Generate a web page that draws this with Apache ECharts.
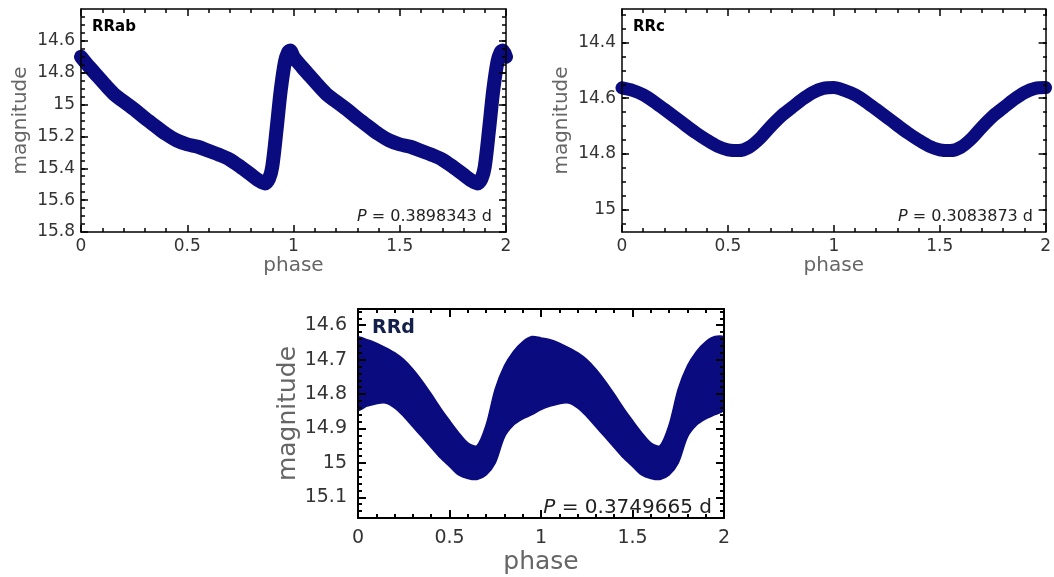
<!DOCTYPE html>
<html>
<head>
<meta charset="utf-8">
<script src="https://cdn.jsdelivr.net/npm/echarts@6/dist/echarts.min.js"></script>
<style>html,body{margin:0;padding:0;background:#fff;}#c{width:1054px;height:577px;}</style>
</head>
<body>
<div id="c"></div>
<script>
// ---------- data (one pulsation cycle, phase 0..1; plotted twice) ----------
const rrabPhase = [0, 0.04, 0.08, 0.12, 0.16, 0.2, 0.25, 0.3, 0.35, 0.4, 0.45, 0.5, 0.55, 0.6, 0.65, 0.7, 0.75, 0.8, 0.835, 0.865, 0.885, 0.9, 0.92, 0.94, 0.96, 0.975, 0.985, 1.0];
const rrabMag   = [14.70, 14.765, 14.825, 14.885, 14.94, 14.98, 15.03, 15.085, 15.135, 15.185, 15.225, 15.25, 15.265, 15.29, 15.315, 15.345, 15.39, 15.44, 15.475, 15.495, 15.465, 15.39, 15.16, 14.91, 14.73, 14.67, 14.66, 14.70];

const rrcPhase = [0, 0.05, 0.1, 0.15, 0.2, 0.25, 0.3, 0.35, 0.4, 0.45, 0.5, 0.55, 0.6, 0.65, 0.7, 0.75, 0.8, 0.85, 0.9, 0.95, 1.0];
const rrcMag   = [14.563, 14.572, 14.588, 14.612, 14.64, 14.668, 14.697, 14.725, 14.75, 14.772, 14.785, 14.788, 14.776, 14.745, 14.703, 14.665, 14.635, 14.605, 14.58, 14.565, 14.562];

const rrdPhase = [0, 0.05, 0.1, 0.15, 0.2, 0.25, 0.3, 0.35, 0.4, 0.45, 0.5, 0.55, 0.6, 0.65, 0.7, 0.75, 0.8, 0.85, 0.9, 0.95, 1.0];
const rrdUpper = [14.637, 14.642, 14.652, 14.665, 14.68, 14.70, 14.728, 14.762, 14.80, 14.84, 14.877, 14.912, 14.942, 14.95, 14.89, 14.785, 14.718, 14.676, 14.648, 14.633, 14.637];
const rrdLower = [14.845, 14.835, 14.828, 14.826, 14.84, 14.865, 14.895, 14.925, 14.955, 14.985, 15.01, 15.035, 15.045, 15.048, 15.035, 15.0, 14.925, 14.89, 14.872, 14.86, 14.845];

// ---------- tick labels / texts ----------
const phaseTicks  = [0, 0.5, 1, 1.5, 2];
const phaseLabels = ['0', '0.5', '1', '1.5', '2'];
const rrabYTicks  = [14.6, 14.8, 15, 15.2, 15.4, 15.6, 15.8];
const rrabYLabels = ['14.6', '14.8', '15', '15.2', '15.4', '15.6', '15.8'];
const rrcYTicks   = [14.4, 14.6, 14.8, 15];
const rrcYLabels  = ['14.4', '14.6', '14.8', '15'];
const rrdYTicks   = [14.6, 14.7, 14.8, 14.9, 15, 15.1];
const rrdYLabels  = ['14.6', '14.7', '14.8', '14.9', '15', '15.1'];
const panelNames  = ['RRab', 'RRc', 'RRd'];
const periods     = ['0.3898343', '0.3083873', '0.3749665'];

// ---------- helpers ----------
const navy = '#0b0b80';
function fold(ph, mag) {
  const out = ph.map((p, i) => [p, mag[i]]);
  for (let i = 1; i < ph.length; i++) out.push([ph[i] + 1, mag[i]]);
  return out;
}
function fold2(ph, a, b) {
  const out = ph.map((p, i) => [p, a[i], b[i]]);
  for (let i = 1; i < ph.length; i++) out.push([ph[i] + 1, a[i], b[i]]);
  return out;
}
function steps(a, b, s) { const r = []; for (let v = a; v <= b + 1e-9; v += s) r.push(+v.toFixed(4)); return r; }
function lookup(vals, labels) {
  return function (v) { const i = vals.findIndex(t => Math.abs(t - v) < 1e-6); return i >= 0 ? labels[i] : ''; };
}

const panels = [
  { grid: {left: 81, top: 9, width: 425, height: 223}, ymin: 14.4, ymax: 15.8, yt: rrabYTicks, yl: rrabYLabels,
    minor: steps(14.45, 15.75, 0.05), ls: 17, ns: 20, yGap: 50, xGap: 21, lm: 6, aw: 1.5, maj: 7, min: 4 },
  { grid: {left: 622, top: 9, width: 425, height: 223}, ymin: 14.28, ymax: 15.08, yt: rrcYTicks, yl: rrcYLabels,
    minor: steps(14.3, 15.05, 0.05), ls: 17, ns: 20, yGap: 50, xGap: 21, lm: 6, aw: 1.5, maj: 7, min: 4 },
  { grid: {left: 358, top: 309, width: 366, height: 209}, ymin: 14.553, ymax: 15.16, yt: rrdYTicks, yl: rrdYLabels,
    minor: steps(14.56, 15.16, 0.02), ls: 19, ns: 25, yGap: 57, xGap: 32, lm: 11, aw: 2, maj: 8, min: 4 }
];

const grid = [], xAxis = [], yAxis = [];
const overX = [], overY = [], overGrid = [];
panels.forEach((p, gi) => {
  grid.push(p.grid);
  overGrid.push(Object.assign({}, p.grid));
  const line = {show: true, onZero: false, lineStyle: {color: '#000', width: p.aw}};
  const tickStyle = {color: '#000', width: p.aw};
  const xBase = {
    gridIndex: gi, type: 'value', min: 0, max: 2, interval: 0.5, z: 5,
    axisLine: line, splitLine: {show: false},
    axisTick: {show: true, inside: true, length: p.maj, lineStyle: tickStyle},
    minorTick: {show: true, splitNumber: 5, length: p.min, lineStyle: tickStyle},
    minorSplitLine: {show: false}
  };
  xAxis.push(Object.assign({}, xBase, {
    position: 'bottom',
    axisLabel: {show: true, fontFamily: 'DejaVu Sans', fontSize: p.ls, color: '#333', margin: p.lm,
      showMinLabel: true, showMaxLabel: true, formatter: lookup(phaseTicks, phaseLabels)},
    name: 'phase', nameLocation: 'middle', nameGap: p.xGap,
    nameTextStyle: {fontFamily: 'DejaVu Sans', fontSize: p.ns, color: '#666'}
  }));
  xAxis.push(Object.assign({}, xBase, {position: 'top', axisLabel: {show: false}}));

  const yBase = {gridIndex: gi, type: 'value', min: p.ymin, max: p.ymax, inverse: true, splitLine: {show: false}, z: 5};
  yAxis.push(Object.assign({}, yBase, {
    position: 'left', axisLine: line,
    axisTick: {show: true, inside: true, length: p.maj, lineStyle: tickStyle, customValues: p.yt},
    axisLabel: {show: true, customValues: p.yt, formatter: lookup(p.yt, p.yl),
      fontFamily: 'DejaVu Sans', fontSize: p.ls, color: '#333', margin: p.lm},
    name: 'magnitude', nameLocation: 'middle', nameGap: p.yGap,
    nameTextStyle: {fontFamily: 'DejaVu Sans', fontSize: p.ns, color: '#666'}
  }));
  yAxis.push(Object.assign({}, yBase, {
    position: 'right', axisLine: line,
    axisTick: {show: true, inside: true, length: p.maj, lineStyle: tickStyle, customValues: p.yt},
    axisLabel: {show: false}
  }));

  // overlay grid carrying the minor magnitude ticks
  const og = gi + 3;
  overX.push({gridIndex: og, type: 'value', min: 0, max: 2, show: false});
  const oBase = {gridIndex: og, type: 'value', min: p.ymin, max: p.ymax, inverse: true, z: 5,
    splitLine: {show: false}, axisLine: {show: false}, axisLabel: {show: false},
    axisTick: {show: true, inside: true, length: p.min, lineStyle: tickStyle, customValues: p.minor}};
  overY.push(Object.assign({}, oBase, {position: 'left'}));
  overY.push(Object.assign({}, oBase, {position: 'right'}));
});

const series = [
  { type: 'line', xAxisIndex: 0, yAxisIndex: 0, data: fold(rrabPhase, rrabMag), showSymbol: false, smooth: 0.3,
    clip: false, silent: true, lineStyle: {color: navy, width: 14, cap: 'round', join: 'round'} },
  { type: 'line', xAxisIndex: 2, yAxisIndex: 2, data: fold(rrcPhase, rrcMag), showSymbol: false, smooth: 0.3,
    clip: false, silent: true, lineStyle: {color: navy, width: 13, cap: 'round', join: 'round'} },
  { type: 'custom', xAxisIndex: 4, yAxisIndex: 4, data: fold2(rrdPhase, rrdUpper, rrdLower),
    encode: {x: 0, y: [1, 2]}, clip: true, silent: true,
    renderItem: function (params, api) {
      if (params.dataIndexInside !== 0) return null;
      const n = params.dataInsideLength;
      const top = [], bot = [];
      for (let i = 0; i < n; i++) {
        top.push(api.coord([api.value(0, i), api.value(1, i)]));
        bot.push(api.coord([api.value(0, i), api.value(2, i)]));
      }
      return {type: 'polygon', shape: {points: top.concat(bot.reverse()), smooth: 0.3},
        style: {fill: navy, stroke: navy, lineWidth: 1.5}};
    } }
];

const tStyle = (txt, size) => ({text: '{i|P} = ' + txt + ' d', font: size + 'px "DejaVu Sans"', fill: '#222',
  align: 'right', verticalAlign: 'middle', rich: {i: {fontStyle: 'italic', fontSize: size, fontFamily: 'DejaVu Sans', fill: '#222'}}});
const graphic = [
  {type: 'text', z: 100, x: 92, y: 27, style: {text: panelNames[0], font: 'bold 15px "DejaVu Sans"', fill: '#000', verticalAlign: 'middle'}},
  {type: 'text', z: 100, x: 633, y: 27, style: {text: panelNames[1], font: 'bold 15px "DejaVu Sans"', fill: '#000', verticalAlign: 'middle'}},
  {type: 'text', z: 100, x: 372, y: 328, style: {text: panelNames[2], font: 'bold 19px "DejaVu Sans"', fill: '#13204a', verticalAlign: 'middle'}},
  {type: 'text', z: 100, x: 492, y: 217, style: tStyle(periods[0], 16)},
  {type: 'text', z: 100, x: 1033, y: 217, style: tStyle(periods[1], 16)},
  {type: 'text', z: 100, x: 712, y: 508, style: tStyle(periods[2], 20)}
];

const chart = echarts.init(document.getElementById('c'), null, {renderer: 'canvas'});
chart.setOption({
  animation: false, backgroundColor: '#fff',
  grid: grid.concat(overGrid),
  xAxis: xAxis.concat(overX),
  yAxis: yAxis.concat(overY),
  series, graphic
});
</script>
</body>
</html>
